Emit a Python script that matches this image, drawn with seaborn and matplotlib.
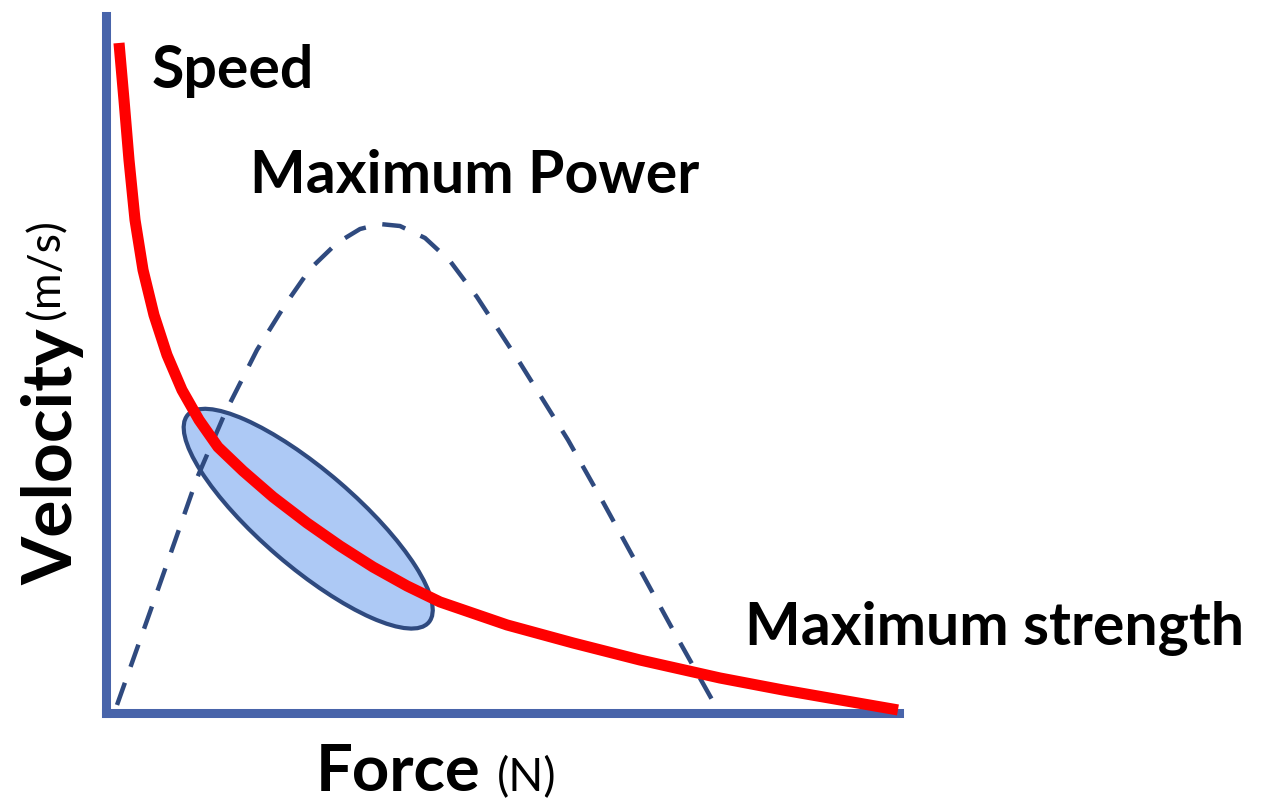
"""Force-velocity curve with the maximum power arch."""
import matplotlib

matplotlib.use("Agg")
import matplotlib.pyplot as plt
from matplotlib.patches import Ellipse
import seaborn as sns
import pandas as pd

# force-velocity curve (red)
fv_force = [1.64, 2.27, 2.90, 3.66, 4.67, 6.05, 7.69, 9.58, 11.73, 14.12,
            17.28, 21.06, 25.35, 29.51, 33.67, 37.96, 42.12, 50.57, 58.89,
            67.34, 77.43, 85.37, 99.87]
fv_velocity = [84.49, 77.30, 69.74, 62.17, 55.86, 50.19, 45.15, 40.73, 36.95,
               33.54, 30.52, 27.24, 23.96, 21.06, 18.41, 16.02, 14.00, 11.10,
               8.83, 6.68, 4.41, 2.90, 0.38]

# power curve (dashed arch)
pw_force = [1.39, 5.55, 8.70, 11.48, 15.01, 19.04, 22.57, 25.73, 29.13, 32.03,
            34.55, 37.07, 40.23, 43.38, 46.78, 52.21, 58.26, 62.67, 67.09,
            71.50, 76.80]
pw_value = [1.01, 12.74, 21.69, 29.63, 37.83, 45.78, 51.45, 55.99, 59.27,
            61.03, 61.66, 61.41, 59.90, 57.00, 52.46, 44.14, 34.43, 26.61,
            18.54, 10.47, 1.01]

# optimal training zone (ellipse): centre, length, thickness, angle
zone_center = (25.5, 24.5)
zone_size = (40.1, 12.1)
zone_angle = -40.7

labels = {
    "Speed": (5.8, 78.8),
    "Maximum Power": (18.2, 65.6),
    "Maximum strength": (80.6, 8.6),
}

AXIS_BLUE = "#4864aa"
NAVY = "#2f4a7f"


def main():
    sns.set_theme(style="white")
    plt.rcParams["font.family"] = ["Lato", "DejaVu Sans"]

    fig = plt.figure(figsize=(12.71, 8.01), dpi=100)
    ax = fig.add_axes([0.0834, 0.1099, 0.6239, 0.8702])

    zone = Ellipse(zone_center, zone_size[0], zone_size[1], angle=zone_angle,
                   facecolor="#adc9f5", edgecolor=NAVY, linewidth=3, zorder=2)
    ax.add_patch(zone)

    pw = pd.DataFrame({"force": pw_force, "power": pw_value})
    sns.lineplot(data=pw, x="force", y="power", ax=ax, color=NAVY, linewidth=3.2,
                 sort=False, zorder=3)
    ax.lines[-1].set_dashes([5.3, 3.8])
    ax.lines[-1].set_dash_capstyle("butt")

    fv = pd.DataFrame({"force": fv_force, "velocity": fv_velocity})
    sns.lineplot(data=fv, x="force", y="velocity", ax=ax, color="#ff0000",
                 linewidth=8, sort=False, zorder=5)
    ax.lines[-1].set_solid_capstyle("butt")
    ax.lines[-1].set_solid_joinstyle("round")
    ax.lines[-1].set_clip_on(False)

    ax.set_xlim(0, 100)
    ax.set_ylim(0, 87.9)
    ax.set_xticks([])
    ax.set_yticks([])
    ax.set_xlabel("")
    ax.set_ylabel("")
    for side in ["top", "right"]:
        ax.spines[side].set_visible(False)
    for side in ["left", "bottom"]:
        ax.spines[side].set_color(AXIS_BLUE)
        ax.spines[side].set_linewidth(6.5)

    for text, (x, y) in labels.items():
        ax.text(x, y, text, fontsize=42.5, fontweight="bold", color="black",
                ha="left", va="baseline", clip_on=False)

    # axis titles, bold word plus smaller unit
    ax.text(26.5, -9.8, "Force", fontsize=47, fontweight="bold",
            color="black", ha="left", va="baseline")
    ax.text(49.3, -9.8, "(N)", fontsize=33, color="black",
            ha="left", va="baseline")
    ax.text(-4.2, 16.1, "Velocity", fontsize=50, fontweight="bold",
            color="black", rotation=90, rotation_mode="anchor",
            ha="left", va="baseline")
    ax.text(-5.9, 49.7, "(m/s)", fontsize=32, color="black", rotation=90,
            rotation_mode="anchor", ha="left", va="baseline")

    fig.savefig("out.png", dpi=100)


if __name__ == "__main__":
    main()
